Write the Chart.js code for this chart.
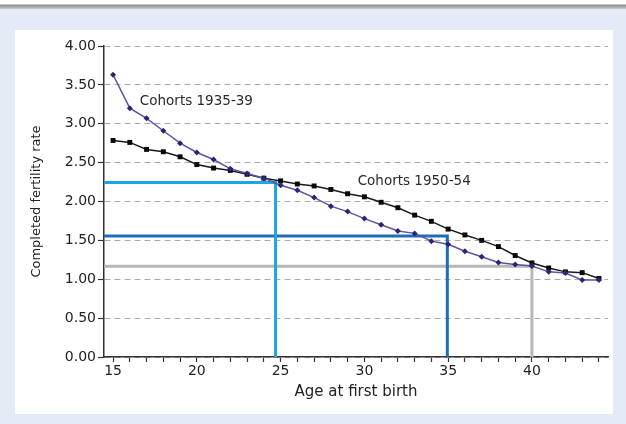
<!DOCTYPE html>
<html>
<head>
<meta charset="utf-8">
<script src="https://cdn.jsdelivr.net/npm/chart.js@4.4.0/dist/chart.umd.min.js"></script>
<style>
  html, body { margin: 0; padding: 0; }
  body { width: 626px; height: 424px; background: #e4ebf6; position: relative; overflow: hidden; }
  #topbar { position: absolute; left: 0; top: 0; width: 626px; height: 9px;
            background: linear-gradient(#ffffff 0px, #ffffff 4px, #8e8e8e 5px, #c9c9c9 9px); }
  #panel { position: absolute; left: 15px; top: 30px; width: 598px; height: 384px; background: #ffffff; }
  #fertility-chart { position: absolute; left: 0; top: 0; }
</style>
</head>
<body>
<div id="topbar"></div>
<div id="panel"></div>
<canvas id="fertility-chart" width="626" height="424"></canvas>
<script>
// Age at first birth (x)
const ages = [15, 16, 17, 18, 19, 20, 21, 22, 23, 24, 25, 26, 27, 28, 29,
              30, 31, 32, 33, 34, 35, 36, 37, 38, 39, 40, 41, 42, 43, 44];

// Completed fertility rate, cohorts 1935-39
const rates1935 = [3.63, 3.20, 3.07, 2.91, 2.75, 2.63, 2.54, 2.42, 2.36, 2.30,
                   2.21, 2.145, 2.05, 1.94, 1.87, 1.78, 1.70, 1.62, 1.59, 1.49,
                   1.45, 1.36, 1.29, 1.215, 1.19, 1.17, 1.095, 1.08, 0.99, 0.99];

// Completed fertility rate, cohorts 1950-54
const rates1950 = [2.785, 2.76, 2.67, 2.64, 2.575, 2.475, 2.43, 2.40, 2.35, 2.30,
                   2.265, 2.225, 2.20, 2.155, 2.10, 2.06, 1.99, 1.92, 1.825, 1.745,
                   1.645, 1.57, 1.50, 1.42, 1.305, 1.21, 1.145, 1.095, 1.085, 1.01];

// Reference lines (age, rate) drawn from the y axis across then down
const refAges = [24.7, 34.95, 40];
const refRates = [2.245, 1.557, 1.167];
const refColors = ['#1ca4e4', '#1f6db6', '#b7b7b7'];

// Series labels written inside the plot
const labelTexts = ['Cohorts 1935-39', 'Cohorts 1950-54'];
const labelAges = [16.6, 29.6];
const labelRates = [3.29, 2.26];

const yTicks = [0, 0.5, 1, 1.5, 2, 2.5, 3, 3.5, 4];
const xMin = 14.46;
const xMax = 44.54;

document.addEventListener('DOMContentLoaded', () => {
    // turn two arrays into {x, y} points
    function toPoints(xs, ys) {
        return xs.map((x, i) => ({ x: x, y: ys[i] }));
    }

    const datasets = [
        {
            label: labelTexts[0],
            data: toPoints(ages, rates1935),
            borderColor: '#5a55a0',
            borderWidth: 1.5,
            pointStyle: 'rectRot',
            pointRadius: 3,
            pointBorderWidth: 0,
            pointBackgroundColor: '#2b2479'
        },
        {
            label: labelTexts[1],
            data: toPoints(ages, rates1950),
            borderColor: '#1a1a1a',
            borderWidth: 1.5,
            pointStyle: 'rect',
            pointRadius: 3.5,
            pointBorderWidth: 0,
            pointBackgroundColor: '#0a0a0a'
        }
    ];

    refAges.forEach((age, i) => {
        datasets.push({
            label: 'ref' + i,
            data: [{ x: xMin, y: refRates[i] }, { x: age, y: refRates[i] }, { x: age, y: 0 }],
            borderColor: refColors[i],
            borderWidth: 3,
            pointRadius: 0
        });
    });

    // plugin to write the cohort labels
    const cohortLabels = {
        id: 'cohortLabels',
        afterDatasetsDraw(chart) {
            const ctx = chart.ctx;
            const xs = chart.scales.x;
            const ys = chart.scales.y;
            ctx.save();
            ctx.font = '13.5px "DejaVu Sans"';
            ctx.fillStyle = '#2a2a2a';
            ctx.textBaseline = 'middle';
            ctx.textAlign = 'left';
            labelTexts.forEach((t, i) => {
                ctx.fillText(t, xs.getPixelForValue(labelAges[i]), ys.getPixelForValue(labelRates[i]));
            });
            ctx.restore();
        }
    };

    const ctx = document.getElementById('fertility-chart').getContext('2d');
    new Chart(ctx, {
        type: 'line',
        data: { datasets: datasets },
        plugins: [cohortLabels],
        options: {
            responsive: false,
            animation: false,
            layout: { padding: { left: 0, top: 46, right: 18, bottom: 0 } },
            plugins: {
                legend: { display: false },
                tooltip: { enabled: false }
            },
            scales: {
                x: {
                    type: 'linear',
                    min: xMin,
                    max: xMax,
                    afterBuildTicks: axis => { axis.ticks = ages.map(v => ({ value: v })); },
                    afterFit: axis => { axis.height = 67; },
                    grid: { drawOnChartArea: false, tickLength: 5, tickColor: '#333', tickWidth: 1.2 },
                    border: { color: '#333', width: 1.5 },
                    ticks: {
                        autoSkip: false,
                        maxRotation: 0,
                        padding: 1,
                        color: '#222',
                        font: { family: 'DejaVu Sans', size: 14 },
                        callback: v => (v % 5 === 0 ? String(v) : '')
                    },
                    title: {
                        display: true,
                        text: 'Age at first birth',
                        color: '#222',
                        font: { family: 'DejaVu Sans', size: 15 },
                        padding: { top: 0, bottom: 23 }
                    }
                },
                y: {
                    min: 0,
                    max: 4,
                    afterBuildTicks: axis => { axis.ticks = yTicks.map(v => ({ value: v })); },
                    afterFit: axis => { axis.width = 104; },
                    grid: { color: '#aaaaaa', lineWidth: 1, tickLength: 6, tickColor: '#333', tickWidth: 1.2 },
                    border: { color: '#333', width: 1.5, dash: [6, 4] },
                    ticks: {
                        padding: 2,
                        color: '#222',
                        font: { family: 'DejaVu Sans', size: 14 },
                        callback: v => v.toFixed(2)
                    },
                    title: {
                        display: true,
                        text: 'Completed fertility rate',
                        color: '#222',
                        font: { family: 'DejaVu Sans', size: 13 },
                        padding: { top: 29, bottom: 0 }
                    }
                }
            }
        }
    });
});
</script>
</body>
</html>
